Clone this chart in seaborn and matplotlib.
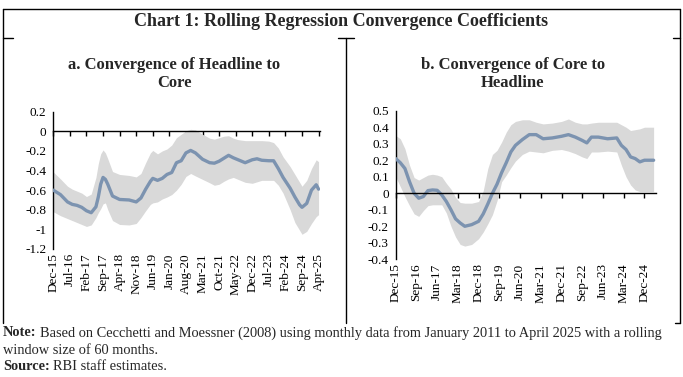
import matplotlib
matplotlib.use("Agg")
import matplotlib.pyplot as plt
from matplotlib.lines import Line2D
from matplotlib.ticker import FuncFormatter
import seaborn as sns
import pandas as pd

# ---- data (months counted from Dec-15) ----
left_months = [0, 3, 6, 8, 10, 12, 14, 16, 18, 19, 20, 21, 22, 23, 25, 28, 32, 35, 37, 39,
               41, 42, 44, 46, 48, 50, 52, 54, 56, 58, 60, 63, 66, 68, 70, 72, 74, 76, 78, 81,
               84, 86, 88, 91, 93, 95, 97, 100, 102, 104, 105, 107, 109, 111, 112]
left_coef = [-0.60, -0.645, -0.72, -0.745, -0.755, -0.775, -0.81, -0.83, -0.77, -0.67,
             -0.54, -0.47, -0.49, -0.54, -0.66, -0.695, -0.70, -0.72, -0.68, -0.59,
             -0.51, -0.48, -0.50, -0.48, -0.44, -0.42, -0.32, -0.30, -0.22, -0.195,
             -0.22, -0.285, -0.32, -0.325, -0.305, -0.275, -0.245, -0.27, -0.29, -0.32,
             -0.29, -0.28, -0.295, -0.30, -0.30, -0.38, -0.47, -0.58, -0.67, -0.75,
             -0.775, -0.735, -0.60, -0.545, -0.59]
left_upper = [-0.415, -0.485, -0.56, -0.59, -0.61, -0.63, -0.665, -0.64, -0.47, -0.33,
              -0.23, -0.19, -0.22, -0.28, -0.41, -0.44, -0.45, -0.465, -0.43, -0.32,
              -0.22, -0.195, -0.23, -0.20, -0.18, -0.14, -0.065, -0.03, 0.005, 0.02,
              0.015, -0.03, -0.07, -0.08, -0.065, -0.05, -0.045, -0.07, -0.085, -0.095,
              -0.095, -0.095, -0.095, -0.10, -0.115, -0.17, -0.26, -0.36, -0.44, -0.52,
              -0.56, -0.50, -0.38, -0.29, -0.31]
left_lower = [-0.82, -0.86, -0.89, -0.91, -0.93, -0.95, -0.97, -0.955, -0.88, -0.83,
              -0.79, -0.74, -0.73, -0.80, -0.91, -0.95, -0.955, -0.94, -0.88, -0.81,
              -0.745, -0.73, -0.72, -0.69, -0.67, -0.645, -0.60, -0.54, -0.46, -0.43,
              -0.455, -0.49, -0.525, -0.55, -0.54, -0.51, -0.485, -0.47, -0.49, -0.52,
              -0.53, -0.515, -0.50, -0.50, -0.50, -0.55, -0.63, -0.80, -0.93, -1.01,
              -1.05, -1.02, -0.94, -0.87, -0.85]

right_months = [0, 2, 4, 6, 8, 10, 12, 14, 16, 18, 20, 22, 24, 26, 28, 30, 33, 36, 38, 40,
                42, 44, 46, 48, 50, 52, 55, 58, 61, 64, 68, 72, 75, 78, 81, 83, 85, 88, 92, 96,
                98, 100, 102, 104, 106, 108, 110, 112]
right_coef = [0.21, 0.185, 0.15, 0.07, 0.00, -0.03, -0.02, 0.016, 0.02, 0.018,
              -0.01, -0.05, -0.10, -0.155, -0.18, -0.20, -0.19, -0.17, -0.125, -0.065,
              0.00, 0.055, 0.125, 0.185, 0.25, 0.29, 0.325, 0.355, 0.355, 0.33,
              0.335, 0.345, 0.355, 0.34, 0.32, 0.305, 0.34, 0.34, 0.33, 0.335,
              0.29, 0.265, 0.22, 0.21, 0.19, 0.20, 0.20, 0.20]
right_upper = [0.35, 0.33, 0.27, 0.17, 0.095, 0.08, 0.095, 0.11, 0.115, 0.11,
               0.10, 0.06, 0.025, -0.025, -0.056, -0.06, -0.06, -0.05, 0.015, 0.15,
               0.235, 0.26, 0.31, 0.37, 0.415, 0.435, 0.445, 0.445, 0.43, 0.42,
               0.425, 0.435, 0.45, 0.43, 0.42, 0.42, 0.425, 0.43, 0.43, 0.43,
               0.415, 0.40, 0.38, 0.385, 0.39, 0.40, 0.40, 0.40]
right_lower = [0.10, 0.04, -0.02, -0.075, -0.125, -0.14, -0.105, -0.075, -0.07, -0.07,
               -0.07, -0.12, -0.20, -0.265, -0.31, -0.32, -0.31, -0.275, -0.235, -0.185,
               -0.13, -0.045, 0.07, 0.11, 0.155, 0.195, 0.235, 0.255, 0.25, 0.245,
               0.26, 0.265, 0.255, 0.24, 0.22, 0.21, 0.25, 0.25, 0.255, 0.25,
               0.17, 0.10, 0.05, 0.02, 0.01, 0.01, 0.01, 0.01]

left_ticklabels = ["Dec-15", "Jul-16", "Feb-17", "Sep-17", "Apr-18", "Nov-18", "Jun-19",
                   "Jan-20", "Aug-20", "Mar-21", "Oct-21", "May-22", "Dec-22", "Jul-23",
                   "Feb-24", "Sep-24", "Apr-25"]
right_ticklabels = ["Dec-15", "Sep-16", "Jun-17", "Mar-18", "Dec-18", "Sep-19", "Jun-20",
                    "Mar-21", "Dec-21", "Sep-22", "Jun-23", "Mar-24", "Dec-24"]
left_yticks = [0.2, 0, -0.2, -0.4, -0.6, -0.8, -1, -1.2]
right_yticks = [0.5, 0.4, 0.3, 0.2, 0.1, 0, -0.1, -0.2, -0.3, -0.4]

title = "Chart 1: Rolling Regression Convergence Coefficients"
sub_a = "a. Convergence of Headline to\nCore"
sub_b = "b. Convergence of Core to\nHeadline"
note_1 = "Based on Cecchetti and Moessner (2008) using monthly data from January 2011 to April 2025 with a rolling"
note_2 = "window size of 60 months."
source = "RBI staff estimates."

LINE = "#7C93B0"
BAND = "#D9D9D9"

sns.set_theme(style="white")
plt.rcParams["font.family"] = ["Liberation Serif", "DejaVu Serif"]
plt.rcParams["axes.unicode_minus"] = False

W, H = 683, 377
fig = plt.figure(figsize=(W / 100, H / 100), dpi=100)


def px_axes(x0, x1, ytop, ybot):
    return fig.add_axes([x0 / W, 1 - ybot / H, (x1 - x0) / W, (ybot - ytop) / H])


def draw_panel(ax, months, coef, lo, hi, step, labels, yticks, xmax):
    df = pd.DataFrame({"month": months, "coef": coef})
    ax.fill_between(months, lo, hi, color=BAND, linewidth=0, zorder=1)
    sns.lineplot(data=df, x="month", y="coef", ax=ax, color=LINE, linewidth=2.4, zorder=3)
    ax.set_xlim(0, xmax)
    ax.set_ylim(min(yticks), max(yticks))
    ax.set_xlabel("")
    ax.set_ylabel("")
    ticks = [i * step for i in range(len(labels))]
    for s in ["top", "right"]:
        ax.spines[s].set_visible(False)
    ax.spines["bottom"].set_position(("data", 0))
    ax.spines["bottom"].set_zorder(4)
    for s in ["bottom", "left"]:
        ax.spines[s].set_color("black")
        ax.spines[s].set_linewidth(1.0)
    ax.set_xticks(ticks)
    ax.tick_params(axis="x", direction="out", length=3.5, width=1.0, color="black",
                   labelbottom=False, bottom=True)
    ax.set_yticks(yticks)
    ax.yaxis.set_major_formatter(FuncFormatter(lambda v, p: f"{v:g}"))
    ax.tick_params(axis="y", length=0, pad=5, labelsize=9.5, labelcolor="black")
    sec = ax.secondary_xaxis(0.0)
    sec.set_xticks(ticks)
    sec.set_xticklabels(labels, rotation=90)
    sec.tick_params(length=0, pad=3, labelsize=9.5, labelcolor="black")
    sec.spines["bottom"].set_visible(False)
    ax.set_facecolor("none")


axl = px_axes(53.3, 320, 111.7, 249)
draw_panel(axl, left_months, left_coef, left_lower, left_upper, 7,
           left_ticklabels, left_yticks, 112.6)

axr = px_axes(395.7, 655.7, 110.7, 259.3)
draw_panel(axr, right_months, right_coef, right_lower, right_upper, 9,
           right_ticklabels, right_yticks, 112.9)


# ---- frame lines (pixel coordinates of the figure) ----
def fline(x0, y0, x1, y1):
    fig.add_artist(Line2D([x0 / W, x1 / W], [1 - y0 / H, 1 - y1 / H],
                          transform=fig.transFigure, color="black", linewidth=1.0))


fline(3, 9, 680, 9)
fline(3, 9, 3, 323)
fline(680, 9, 680, 323)
fline(346, 38, 346, 323)
fline(3, 38, 13, 38)
fline(338, 38, 354, 38)
fline(673, 38, 680, 38)
fline(675, 323, 680, 323)

fig.text(341.5 / W, 1 - 21 / H, title, ha="center", va="center",
         fontsize=13, fontweight="bold")
fig.text(174.5 / W, 1 - 74 / H, sub_a, ha="center", va="center",
         fontsize=12, fontweight="bold", linespacing=1.12)
fig.text(513 / W, 1 - 74 / H, sub_b, ha="center", va="center",
         fontsize=12, fontweight="bold", linespacing=1.12)

renderer = fig.canvas.get_renderer()


def label_line(y, head, body, size=10.4):
    t = fig.text(3 / W, 1 - y / H, head, ha="left", va="center", fontsize=size,
                 fontweight="bold")
    w = t.get_window_extent(renderer).width
    fig.text((3 + w + 3) / W, 1 - y / H, body, ha="left", va="center", fontsize=size)


label_line(333, "Note:", note_1)
fig.text(3 / W, 1 - 350 / H, note_2, ha="left", va="center", fontsize=10.4)
label_line(367, "Source:", source)

fig.savefig("out.png", dpi=100)
